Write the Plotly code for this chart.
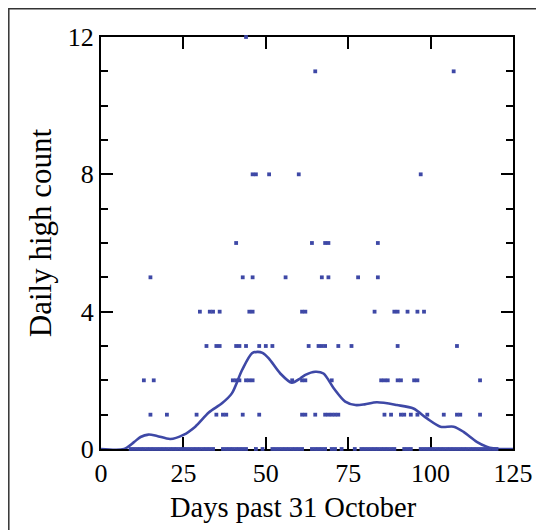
import plotly.graph_objects as go

# Observed daily high counts (day past 31 October, count)
days_12 = [44]
days_11 = [65, 107]
days_8 = [46, 47, 51, 60, 97]
days_6 = [41, 64, 68, 69, 84]
days_5 = [15, 43, 46, 56, 67, 69, 78, 84]
days_4 = [30, 33, 34, 36, 45, 46, 61, 62, 83, 89, 90, 93, 96, 98]
days_3 = [32, 35, 36, 41, 42, 44, 48, 50, 52, 63, 66, 67, 68, 72, 76, 90, 108]
days_2 = [13, 16, 40, 41, 42, 44, 45, 46, 58, 61, 62, 70, 85, 86, 87, 90, 91, 95, 96, 115]
days_1 = [15, 20, 29, 35, 37, 38, 43, 48, 61, 62, 65, 68, 69, 70, 71, 72, 86, 88,
          91, 92, 94, 96, 99, 104, 108, 109, 115]
days_0 = [9, 10, 11, 12, 13, 14, 15, 16, 17, 18, 19, 20, 21, 22, 23, 24, 25, 26, 27,
          28, 29, 30, 31, 32, 33, 34, 37, 38, 39, 40, 41, 42, 43, 44, 47, 49, 52, 53,
          54, 55, 56, 57, 58, 59, 60, 61, 64, 65, 66, 67, 68, 70, 71, 73, 77, 79, 80,
          81, 82, 83, 84, 85, 86, 87, 88, 89, 92, 93, 94, 97, 98, 99, 100, 101, 102,
          103, 104, 105, 106, 107, 108, 109, 110, 111, 112, 113, 114, 115, 116, 117,
          118, 119, 120]

groups = [(12, days_12), (11, days_11), (8, days_8), (6, days_6), (5, days_5),
          (4, days_4), (3, days_3), (2, days_2), (1, days_1), (0, days_0)]

# Smoothed trend curve
trend_day = [0, 7, 10, 12, 14.4, 17, 21, 25, 28.6, 32.7, 36.7, 39.7, 42.8, 45.8, 47.5,
             49, 50.9, 54.4, 57.9, 60.5, 62, 65, 67.5, 70.6, 74.1, 77.2, 80, 83.7, 89.8,
             94.8, 98.9, 103, 107, 110, 114, 117, 119, 121, 125]
trend_val = [0, 0, 0.2, 0.35, 0.42, 0.38, 0.29, 0.41, 0.65, 1.06, 1.33, 1.62, 2.3, 2.79,
             2.83, 2.8, 2.64, 2.2, 1.93, 2.06, 2.16, 2.25, 2.2, 1.77, 1.38, 1.28, 1.3, 1.36,
             1.28, 1.18, 0.89, 0.65, 0.65, 0.5, 0.21, 0.07, 0.02, 0, 0]

x_ticks = [0, 25, 50, 75, 100, 125]
y_ticks = [0, 4, 8, 12]
x_title = "Days past 31 October"
y_title = "Daily high count"

pts_x, pts_y = [], []
for val, ds in groups:
    pts_x += ds
    pts_y += [val] * len(ds)

BLUE = "#3e48a6"
FONT = "Liberation Serif"

fig = go.Figure()
fig.add_trace(go.Scatter(x=pts_x, y=pts_y, mode="markers",
                         marker=dict(symbol="square", size=3.8, color=BLUE,
                                     line=dict(width=0)),
                         cliponaxis=False, showlegend=False))
fig.add_trace(go.Scatter(x=trend_day, y=trend_val, mode="lines",
                         line=dict(color=BLUE, width=2.6, shape="spline", smoothing=0.8),
                         cliponaxis=False, showlegend=False))

axis_common = dict(showline=True, linecolor="black", linewidth=2, mirror="ticks",
                   ticks="inside", tickcolor="black", tickwidth=2, ticklen=12,
                   showgrid=False, zeroline=False, layer="below traces",
                   tickfont=dict(family=FONT, size=26, color="black"))

fig.update_xaxes(range=[0, 125], tickvals=x_ticks, ticktext=[str(v) for v in x_ticks],
                 **axis_common)
fig.update_yaxes(range=[0, 12], tickvals=y_ticks, ticktext=[str(v) for v in y_ticks],
                 minor=dict(dtick=1, ticks="inside", ticklen=7, tickwidth=2,
                            tickcolor="black"),
                 **axis_common)

fig.add_annotation(text=x_title, xref="paper", yref="paper", x=0.467, y=-0.143,
                   xanchor="center", yanchor="middle", showarrow=False,
                   font=dict(family=FONT, size=28.5, color="black"))
fig.add_annotation(text=y_title, xref="paper", yref="paper", x=-0.148, y=0.524,
                   xanchor="center", yanchor="middle", showarrow=False, textangle=-90,
                   font=dict(family=FONT, size=31, color="black"))

fig.add_shape(type="rect", xref="paper", yref="paper",
              x0=(8.5 - 100.7) / 412, x1=(560 - 100.7) / 412,
              y0=(441 - 560) / 412, y1=1 + (29 - 0.8) / 412,
              line=dict(color="#333333", width=1.5), fillcolor="rgba(0,0,0,0)",
              layer="below")

fig.update_layout(width=536, height=522,
                  margin=dict(l=93, r=31, t=29, b=81),
                  paper_bgcolor="white", plot_bgcolor="white")

fig.write_html("out.html")
